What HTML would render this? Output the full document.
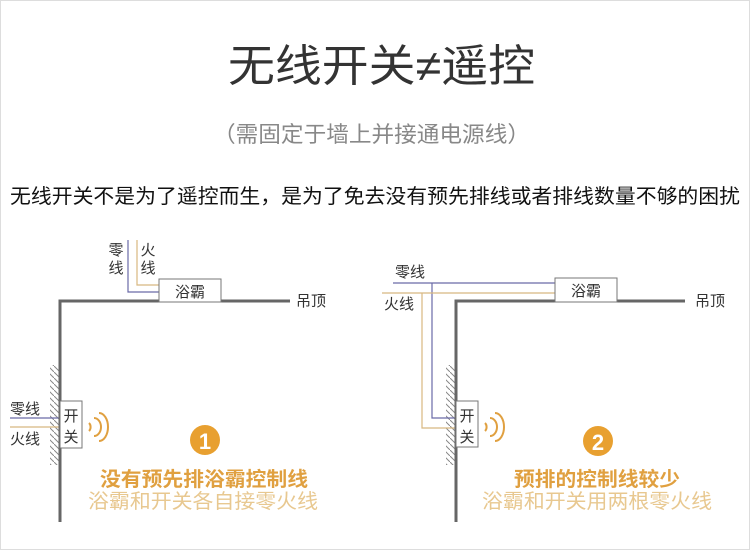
<!DOCTYPE html>
<html><head><meta charset="utf-8"><style>
body{margin:0;width:750px;height:550px;background:#fff;overflow:hidden;font-family:"Liberation Sans","Noto Sans CJK SC",sans-serif;}
svg{position:absolute;left:0;top:0}
</style></head><body>
<svg width="750" height="550" viewBox="0 0 750 550" font-family="Liberation Sans, Noto Sans CJK SC, sans-serif">
<defs>
<pattern id="h" width="6" height="6" patternUnits="userSpaceOnUse">
<line x1="0" y1="0" x2="6" y2="6" stroke="#888" stroke-width="1"/>
</pattern>
</defs>
<rect x="0.5" y="0.5" width="749" height="549" fill="none" stroke="#ddd"/>
<text x="228" y="81" textLength="307" lengthAdjust="spacingAndGlyphs" font-size="44" fill="#333">无线开关≠遥控</text>
<text x="213" y="142" textLength="317" lengthAdjust="spacingAndGlyphs" font-size="22" fill="#888">（需固定于墙上并接通电源线）</text>
<text x="10" y="203" textLength="730" lengthAdjust="spacingAndGlyphs" font-size="20" fill="#111">无线开关不是为了遥控而生，是为了免去没有预先排线或者排线数量不够的困扰</text>

<!-- panel 1 -->
<rect x="50" y="365" width="10" height="100" fill="url(#h)"/>
<polyline points="128,240 128,292 159,292" fill="none" stroke="#6a6aa8" stroke-width="1.2"/>
<polyline points="137,240 137,285 159,285" fill="none" stroke="#d8b880" stroke-width="1.2"/>
<line x1="10" y1="418" x2="60" y2="418" stroke="#6a6aa8" stroke-width="1.2"/>
<line x1="10" y1="427" x2="60" y2="427" stroke="#d8b880" stroke-width="1.2"/>
<polyline points="60,522 60,301 290,301" fill="none" stroke="#666" stroke-width="3"/>
<rect x="159" y="279" width="62" height="23" fill="#fff" stroke="#777"/>
<text x="190" y="297" text-anchor="middle" font-size="15" fill="#333">浴霸</text>
<rect x="60" y="401" width="22" height="47" fill="#fff" stroke="#777"/>
<text x="71" y="421" text-anchor="middle" font-size="15" fill="#333">开</text>
<text x="71" y="442" text-anchor="middle" font-size="15" fill="#333">关</text>
<text x="116" y="255" text-anchor="middle" font-size="15" fill="#333">零</text>
<text x="116" y="273" text-anchor="middle" font-size="15" fill="#333">线</text>
<text x="148" y="255" text-anchor="middle" font-size="15" fill="#333">火</text>
<text x="148" y="273" text-anchor="middle" font-size="15" fill="#333">线</text>
<text x="10" y="414" font-size="15" fill="#333">零线</text>
<text x="10" y="444" font-size="15" fill="#333">火线</text>
<text x="296" y="306" font-size="15" fill="#333">吊顶</text>
<g fill="none" stroke="#e0a040" stroke-width="2">
<path d="M89,423 a4,5 0 0 1 0,8"/><path d="M94,418 a7,9 0 0 1 0,18"/><path d="M99,413 a9,14 0 0 1 0,28"/>
</g>
<circle cx="205" cy="440" r="15" fill="#e8a030"/>
<text x="205" y="449" text-anchor="middle" font-size="22" font-weight="bold" fill="#fff">1</text>
<text x="100" y="486" textLength="208" lengthAdjust="spacingAndGlyphs" font-size="20" font-weight="bold" fill="#e0a040">没有预先排浴霸控制线</text>
<text x="88" y="508" textLength="230" lengthAdjust="spacingAndGlyphs" font-size="20" fill="#e8c890">浴霸和开关各自接零火线</text>

<!-- panel 2 -->
<rect x="446" y="365" width="10" height="100" fill="url(#h)"/>
<polyline points="393,283 555,283" fill="none" stroke="#6a6aa8" stroke-width="1.2"/>
<polyline points="432,283 432,418 456,418" fill="none" stroke="#6a6aa8" stroke-width="1.2"/>
<polyline points="382,293 555,293" fill="none" stroke="#d8b880" stroke-width="1.2"/>
<polyline points="422,293 422,428 456,428" fill="none" stroke="#d8b880" stroke-width="1.2"/>
<polyline points="456,522 456,301 685,301" fill="none" stroke="#666" stroke-width="3"/>
<rect x="555" y="278" width="62" height="24" fill="#fff" stroke="#777"/>
<text x="586" y="296" text-anchor="middle" font-size="15" fill="#333">浴霸</text>
<rect x="456" y="401" width="22" height="46" fill="#fff" stroke="#777"/>
<text x="467" y="421" text-anchor="middle" font-size="15" fill="#333">开</text>
<text x="467" y="442" text-anchor="middle" font-size="15" fill="#333">关</text>
<text x="395" y="277" font-size="15" fill="#333">零线</text>
<text x="384" y="309" font-size="15" fill="#333">火线</text>
<text x="695" y="306" font-size="15" fill="#333">吊顶</text>
<g fill="none" stroke="#e0a040" stroke-width="2">
<path d="M485,423 a4,5 0 0 1 0,8"/><path d="M490,418 a7,9 0 0 1 0,18"/><path d="M495,413 a9,14 0 0 1 0,28"/>
</g>
<circle cx="598" cy="441" r="15" fill="#e8a030"/>
<text x="598" y="450" text-anchor="middle" font-size="22" font-weight="bold" fill="#fff">2</text>
<text x="514" y="486" textLength="166" lengthAdjust="spacingAndGlyphs" font-size="20" font-weight="bold" fill="#e0a040">预排的控制线较少</text>
<text x="482" y="508" textLength="230" lengthAdjust="spacingAndGlyphs" font-size="20" fill="#e8c890">浴霸和开关用两根零火线</text>
</svg>
</body></html>
